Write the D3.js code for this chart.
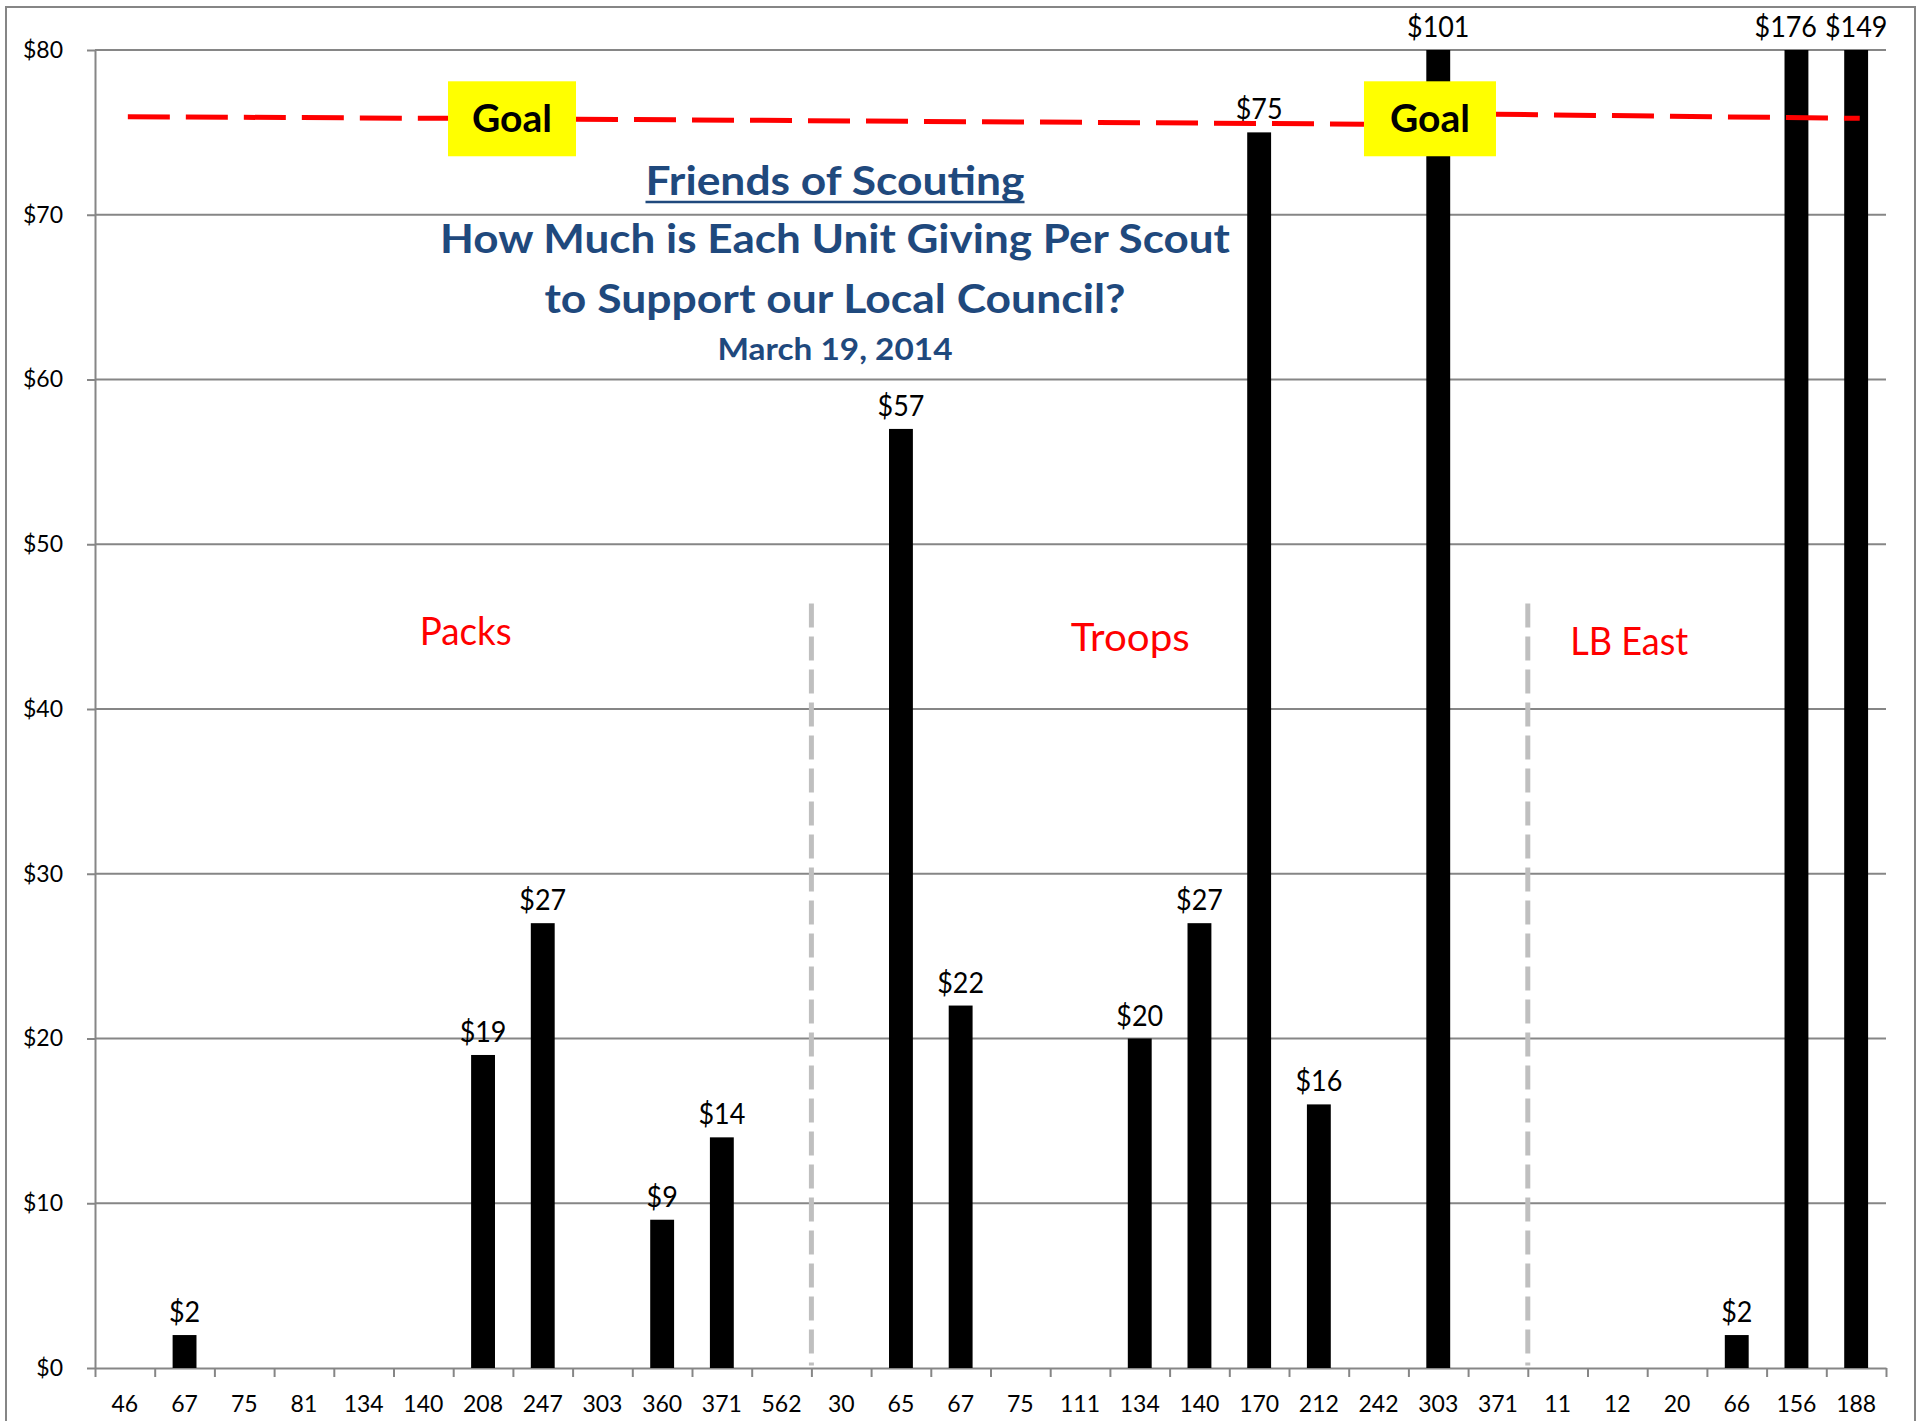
<!DOCTYPE html>
<html><head><meta charset="utf-8">
<script src="https://cdn.jsdelivr.net/npm/d3@7"></script>
<style>body{margin:0;background:#fff}svg{display:block}</style>
</head><body>
<script>
// ---- data ----
const categories = ["46","67","75","81","134","140","208","247","303","360","371","562",
                    "30","65","67","75","111","134","140","170","212","242","303","371",
                    "11","12","20","66","156","188"];
const values = [0,2,0,0,0,0,19,27,0,9,14,0,
                0,57,22,0,0,20,27,75,16,0,101,0,
                0,0,0,2,176,149];
const groupNames = ["Packs","Troops","LB East"];
const groupSizes = [12,12,6];
const yTickValues = [0,10,20,30,40,50,60,70,80];
const goalValue = 76;
const titleLines = ["Friends of Scouting","How Much is Each Unit Giving Per Scout","to Support our Local Council?","March 19, 2014"];

// ---- layout ----
const W = 1923, H = 1421;
const L = 95, R = 1886, T = 50, B = 1368;
const FONT = "Lato, 'Open Sans', sans-serif";
const GRID = "#868686";
const TITLE_C = "#1f497d";

const svg = d3.select("body").append("svg").attr("width", W).attr("height", H)
  .style("font-family", FONT);

svg.append("rect").attr("x", 6).attr("y", 7).attr("width", 1909).attr("height", H + 20)
  .attr("fill", "#fff").attr("stroke", GRID).attr("stroke-width", 2);

const idx = d3.range(categories.length);
const x = d3.scaleBand().domain(idx).range([L, R]).paddingInner(0.6).paddingOuter(0.3);
const xi = d3.scaleLinear().domain([0, categories.length]).range([L, R]);
const y = d3.scaleLinear().domain([0, 80]).range([B, T]);
const yMax = d3.max(yTickValues);

// gridlines
svg.append("g").selectAll("line").data(yTickValues.filter(v => v > 0)).join("line")
  .attr("x1", L).attr("x2", R).attr("y1", d => y(d)).attr("y2", d => y(d))
  .attr("stroke", GRID).attr("stroke-width", 2);

// y axis
const yAxis = svg.append("g").attr("transform", `translate(${L},0)`)
  .call(d3.axisLeft(y).tickValues(yTickValues).tickSize(8).tickSizeOuter(0).tickPadding(24).tickFormat(d => "$" + d));
yAxis.selectAll("path,line").attr("stroke", GRID).attr("stroke-width", 2);
yAxis.selectAll("text").attr("font-size", 23).attr("fill", "#000").style("font-family", FONT);

// x axis: boundary ticks
const xTicks = svg.append("g").attr("transform", `translate(0,${B})`)
  .call(d3.axisBottom(xi).tickValues(d3.range(categories.length + 1)).tickSize(9).tickSizeOuter(0).tickFormat(""));
xTicks.selectAll("path,line").attr("stroke", GRID).attr("stroke-width", 2);

// x axis labels
const xLab = svg.append("g").attr("transform", `translate(0,${B})`)
  .call(d3.axisBottom(x).tickSize(0).tickPadding(28).tickFormat(i => categories[i]));
xLab.select(".domain").remove();
xLab.selectAll("text").attr("font-size", 23).attr("fill", "#000").style("font-family", FONT);

// separators between groups
const bounds = d3.cumsum(groupSizes).slice(0, -1);
svg.append("g").selectAll("line").data(bounds).join("line")
  .attr("x1", d => xi(d)).attr("x2", d => xi(d))
  .attr("y1", y(46.4)).attr("y2", y(0.15))
  .attr("stroke", "#bfbfbf").attr("stroke-width", 5).attr("stroke-dasharray", "24,9");

// bars
const barData = idx.filter(i => values[i] > 0);
svg.append("g").selectAll("rect").data(barData).join("rect")
  .attr("x", i => x(i)).attr("width", x.bandwidth())
  .attr("y", i => y(Math.min(values[i], yMax)))
  .attr("height", i => B - y(Math.min(values[i], yMax)))
  .attr("fill", "#000");

// data labels (narrowed to mimic a condensed face; nudge apart if they collide)
const charW = 15.6;
const lab = barData.map(i => {
  const t = "$" + values[i];
  return { i, t, w: t.length * charW, cx: x(i) + x.bandwidth() / 2, y: y(Math.min(values[i], yMax)) - 13 };
});
for (let k = lab.length - 2; k >= 0; k--) {
  const a = lab[k], b = lab[k + 1];
  if (Math.abs(a.y - b.y) < 20) {
    const overlap = (a.cx + a.w / 2 + 8) - (b.cx - b.w / 2);
    if (overlap > 0) a.cx -= overlap;
  }
}
svg.append("g").selectAll("text").data(lab).join("text")
  .attr("x", d => d.cx).attr("y", d => d.y)
  .attr("text-anchor", "middle").attr("font-size", 29).attr("fill", "#000")
  .attr("textLength", d => d.w).attr("lengthAdjust", "spacingAndGlyphs")
  .text(d => d.t);

// group labels (annotation positions in band-index units / value units)
const groupLabelAt = [[6.21, 43.9, 92], [17.34, 43.5, 119], [25.7, 43.3, 118]];
svg.append("g").selectAll("text").data(groupNames).join("text")
  .attr("x", (d, k) => xi(groupLabelAt[k][0]))
  .attr("y", (d, k) => y(groupLabelAt[k][1]))
  .attr("text-anchor", "middle").attr("font-size", 39).attr("fill", "#ff0000")
  .attr("textLength", (d, k) => groupLabelAt[k][2]).attr("lengthAdjust", "spacingAndGlyphs")
  .text(d => d);

// goal line (hand-drawn segments around the goal value)
const goalSegs = [
  [0.55, goalValue - 0.05, 5.913, goalValue - 0.15],
  [8.057, goalValue - 0.2, 21.256, goalValue - 0.5],
  [23.467, goalValue + 0.1, 29.56, goalValue - 0.15]
];
svg.append("g").selectAll("line").data(goalSegs).join("line")
  .attr("x1", d => xi(d[0])).attr("y1", d => y(d[1]))
  .attr("x2", d => xi(d[2])).attr("y2", d => y(d[3]))
  .attr("stroke", "#ff0000").attr("stroke-width", 5).attr("stroke-dasharray", "42,16");

// goal boxes
const goalBoxes = [[5.913, 8.057], [21.256, 23.467]];
const gb = svg.append("g").selectAll("g").data(goalBoxes).join("g");
gb.append("rect")
  .attr("x", d => xi(d[0])).attr("width", d => xi(d[1]) - xi(d[0]))
  .attr("y", y(78.1)).attr("height", y(73.55) - y(78.1))
  .attr("fill", "#ffff00");
gb.append("text")
  .attr("x", d => (xi(d[0]) + xi(d[1])) / 2).attr("y", y(78.1) + 51)
  .attr("text-anchor", "middle").attr("font-size", 38).attr("font-weight", "bold")
  .attr("fill", "#000").attr("textLength", 80).attr("lengthAdjust", "spacingAndGlyphs")
  .text("Goal");

// title block
const tx = 835;
const tSpec = [[195, 40, 379], [253, 40, 790], [313, 40, 581], [360, 31, 235]];
svg.append("g").selectAll("text").data(titleLines).join("text")
  .attr("x", tx).attr("y", (d, k) => tSpec[k][0])
  .attr("text-anchor", "middle").attr("font-weight", "bold")
  .attr("font-size", (d, k) => tSpec[k][1]).attr("fill", TITLE_C)
  .attr("textLength", (d, k) => tSpec[k][2]).attr("lengthAdjust", "spacingAndGlyphs")
  .text(d => d);
svg.append("line").attr("x1", tx - 379 / 2).attr("x2", tx + 379 / 2)
  .attr("y1", 202).attr("y2", 202).attr("stroke", TITLE_C).attr("stroke-width", 2.5);
</script>
</body></html>
